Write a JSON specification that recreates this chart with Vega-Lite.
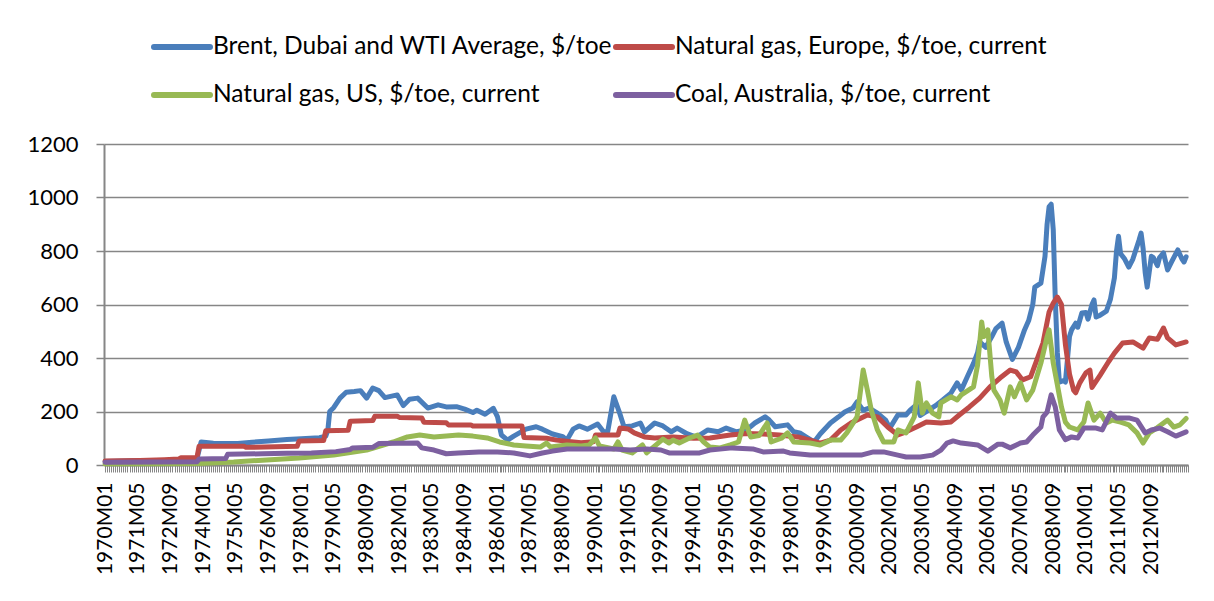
{
  "$schema": "https://vega.github.io/schema/vega-lite/v6.json",
  "autosize": "none",
  "width": 1084,
  "height": 321,
  "padding": {"left": 104, "top": 144, "right": 26, "bottom": 136},
  "background": "white",
  "config": {
    "view": {"stroke": null},
    "font": "Lato"
  },
  "data": {
    "format": {"parse": {"d": "utc:'%Y-%m'"}},
    "values": [
      {"d":"1970-01","k":"brent","v":13},{"d":"1971-02","k":"brent","v":16},{"d":"1972-12","k":"brent","v":18},{"d":"1973-10","k":"brent","v":24},{"d":"1973-12","k":"brent","v":86},{"d":"1974-06","k":"brent","v":81},{"d":"1975-06","k":"brent","v":80},{"d":"1976-01","k":"brent","v":85},{"d":"1976-09","k":"brent","v":90},{"d":"1977-06","k":"brent","v":95},{"d":"1978-01","k":"brent","v":98},{"d":"1978-10","k":"brent","v":102},{"d":"1979-01","k":"brent","v":108},{"d":"1979-02","k":"brent","v":130},{"d":"1979-03","k":"brent","v":200},{"d":"1979-05","k":"brent","v":215},{"d":"1979-08","k":"brent","v":250},{"d":"1979-11","k":"brent","v":272},{"d":"1980-03","k":"brent","v":275},{"d":"1980-06","k":"brent","v":278},{"d":"1980-09","k":"brent","v":250},{"d":"1980-12","k":"brent","v":288},{"d":"1981-03","k":"brent","v":278},{"d":"1981-06","k":"brent","v":252},{"d":"1981-12","k":"brent","v":262},{"d":"1982-03","k":"brent","v":222},{"d":"1982-06","k":"brent","v":246},{"d":"1982-10","k":"brent","v":250},{"d":"1983-03","k":"brent","v":213},{"d":"1983-08","k":"brent","v":225},{"d":"1983-12","k":"brent","v":217},{"d":"1984-05","k":"brent","v":218},{"d":"1984-09","k":"brent","v":209},{"d":"1985-01","k":"brent","v":196},{"d":"1985-03","k":"brent","v":205},{"d":"1985-07","k":"brent","v":190},{"d":"1985-11","k":"brent","v":212},{"d":"1986-01","k":"brent","v":181},{"d":"1986-03","k":"brent","v":112},{"d":"1986-06","k":"brent","v":93},{"d":"1986-09","k":"brent","v":108},{"d":"1987-03","k":"brent","v":134},{"d":"1987-08","k":"brent","v":143},{"d":"1987-11","k":"brent","v":134},{"d":"1988-04","k":"brent","v":116},{"d":"1988-09","k":"brent","v":106},{"d":"1988-11","k":"brent","v":93},{"d":"1989-02","k":"brent","v":134},{"d":"1989-05","k":"brent","v":146},{"d":"1989-09","k":"brent","v":134},{"d":"1990-02","k":"brent","v":153},{"d":"1990-05","k":"brent","v":124},{"d":"1990-07","k":"brent","v":124},{"d":"1990-10","k":"brent","v":255},{"d":"1991-01","k":"brent","v":190},{"d":"1991-03","k":"brent","v":143},{"d":"1991-07","k":"brent","v":146},{"d":"1991-11","k":"brent","v":157},{"d":"1992-01","k":"brent","v":124},{"d":"1992-06","k":"brent","v":157},{"d":"1992-10","k":"brent","v":146},{"d":"1993-02","k":"brent","v":124},{"d":"1993-05","k":"brent","v":138},{"d":"1993-10","k":"brent","v":116},{"d":"1994-02","k":"brent","v":105},{"d":"1994-04","k":"brent","v":112},{"d":"1994-08","k":"brent","v":131},{"d":"1995-01","k":"brent","v":124},{"d":"1995-05","k":"brent","v":138},{"d":"1995-10","k":"brent","v":124},{"d":"1996-03","k":"brent","v":131},{"d":"1996-07","k":"brent","v":157},{"d":"1996-12","k":"brent","v":180},{"d":"1997-02","k":"brent","v":168},{"d":"1997-05","k":"brent","v":143},{"d":"1997-11","k":"brent","v":150},{"d":"1998-02","k":"brent","v":124},{"d":"1998-05","k":"brent","v":120},{"d":"1998-08","k":"brent","v":105},{"d":"1998-12","k":"brent","v":86},{"d":"1999-03","k":"brent","v":116},{"d":"1999-08","k":"brent","v":157},{"d":"1999-12","k":"brent","v":180},{"d":"2000-03","k":"brent","v":198},{"d":"2000-07","k":"brent","v":213},{"d":"2000-09","k":"brent","v":236},{"d":"2000-12","k":"brent","v":205},{"d":"2001-03","k":"brent","v":213},{"d":"2001-07","k":"brent","v":194},{"d":"2001-11","k":"brent","v":168},{"d":"2002-01","k":"brent","v":138},{"d":"2002-05","k":"brent","v":187},{"d":"2002-09","k":"brent","v":187},{"d":"2002-11","k":"brent","v":205},{"d":"2003-02","k":"brent","v":225},{"d":"2003-04","k":"brent","v":185},{"d":"2003-08","k":"brent","v":205},{"d":"2003-12","k":"brent","v":225},{"d":"2004-03","k":"brent","v":243},{"d":"2004-07","k":"brent","v":269},{"d":"2004-10","k":"brent","v":307},{"d":"2004-12","k":"brent","v":280},{"d":"2005-03","k":"brent","v":330},{"d":"2005-06","k":"brent","v":380},{"d":"2005-08","k":"brent","v":420},{"d":"2005-09","k":"brent","v":460},{"d":"2005-12","k":"brent","v":440},{"d":"2006-03","k":"brent","v":480},{"d":"2006-05","k":"brent","v":510},{"d":"2006-08","k":"brent","v":530},{"d":"2006-10","k":"brent","v":460},{"d":"2007-01","k":"brent","v":395},{"d":"2007-04","k":"brent","v":440},{"d":"2007-07","k":"brent","v":505},{"d":"2007-09","k":"brent","v":540},{"d":"2007-11","k":"brent","v":600},{"d":"2007-12","k":"brent","v":665},{"d":"2008-03","k":"brent","v":680},{"d":"2008-05","k":"brent","v":780},{"d":"2008-06","k":"brent","v":900},{"d":"2008-07","k":"brent","v":965},{"d":"2008-08","k":"brent","v":975},{"d":"2008-09","k":"brent","v":880},{"d":"2008-10","k":"brent","v":620},{"d":"2008-11","k":"brent","v":420},{"d":"2008-12","k":"brent","v":310},{"d":"2009-02","k":"brent","v":315},{"d":"2009-03","k":"brent","v":310},{"d":"2009-05","k":"brent","v":480},{"d":"2009-06","k":"brent","v":505},{"d":"2009-08","k":"brent","v":530},{"d":"2009-09","k":"brent","v":515},{"d":"2009-11","k":"brent","v":568},{"d":"2010-01","k":"brent","v":570},{"d":"2010-02","k":"brent","v":545},{"d":"2010-04","k":"brent","v":600},{"d":"2010-05","k":"brent","v":617},{"d":"2010-06","k":"brent","v":553},{"d":"2010-08","k":"brent","v":560},{"d":"2010-11","k":"brent","v":575},{"d":"2011-01","k":"brent","v":620},{"d":"2011-03","k":"brent","v":700},{"d":"2011-04","k":"brent","v":800},{"d":"2011-05","k":"brent","v":855},{"d":"2011-06","k":"brent","v":790},{"d":"2011-08","k":"brent","v":770},{"d":"2011-10","k":"brent","v":740},{"d":"2011-12","k":"brent","v":770},{"d":"2012-03","k":"brent","v":840},{"d":"2012-04","k":"brent","v":867},{"d":"2012-05","k":"brent","v":810},{"d":"2012-06","k":"brent","v":720},{"d":"2012-07","k":"brent","v":665},{"d":"2012-09","k":"brent","v":780},{"d":"2012-10","k":"brent","v":775},{"d":"2012-12","k":"brent","v":745},{"d":"2013-01","k":"brent","v":775},{"d":"2013-03","k":"brent","v":793},{"d":"2013-05","k":"brent","v":729},{"d":"2013-07","k":"brent","v":760},{"d":"2013-09","k":"brent","v":790},{"d":"2013-10","k":"brent","v":804},{"d":"2013-12","k":"brent","v":770},{"d":"2014-01","k":"brent","v":759},{"d":"2014-02","k":"brent","v":778},

      {"d":"1970-01","k":"eu","v":15},{"d":"1971-06","k":"eu","v":17},{"d":"1972-06","k":"eu","v":20},{"d":"1973-01","k":"eu","v":22},{"d":"1973-02","k":"eu","v":27},{"d":"1973-10","k":"eu","v":28},{"d":"1973-11","k":"eu","v":70},{"d":"1975-09","k":"eu","v":70},{"d":"1975-10","k":"eu","v":66},{"d":"1977-11","k":"eu","v":70},{"d":"1977-12","k":"eu","v":90},{"d":"1978-12","k":"eu","v":92},{"d":"1979-01","k":"eu","v":128},{"d":"1979-12","k":"eu","v":130},{"d":"1980-01","k":"eu","v":164},{"d":"1980-12","k":"eu","v":166},{"d":"1981-01","k":"eu","v":182},{"d":"1981-12","k":"eu","v":182},{"d":"1982-01","k":"eu","v":178},{"d":"1982-12","k":"eu","v":176},{"d":"1983-01","k":"eu","v":160},{"d":"1983-12","k":"eu","v":158},{"d":"1984-01","k":"eu","v":150},{"d":"1984-12","k":"eu","v":150},{"d":"1985-01","k":"eu","v":146},{"d":"1987-01","k":"eu","v":146},{"d":"1987-02","k":"eu","v":103},{"d":"1988-01","k":"eu","v":100},{"d":"1988-06","k":"eu","v":93},{"d":"1989-01","k":"eu","v":87},{"d":"1989-06","k":"eu","v":83},{"d":"1989-12","k":"eu","v":87},{"d":"1990-01","k":"eu","v":112},{"d":"1990-12","k":"eu","v":112},{"d":"1991-01","k":"eu","v":138},{"d":"1991-05","k":"eu","v":135},{"d":"1991-08","k":"eu","v":120},{"d":"1992-01","k":"eu","v":105},{"d":"1992-06","k":"eu","v":101},{"d":"1993-03","k":"eu","v":105},{"d":"1994-01","k":"eu","v":100},{"d":"1994-09","k":"eu","v":101},{"d":"1995-07","k":"eu","v":112},{"d":"1996-03","k":"eu","v":118},{"d":"1996-11","k":"eu","v":116},{"d":"1997-07","k":"eu","v":112},{"d":"1998-04","k":"eu","v":105},{"d":"1998-10","k":"eu","v":93},{"d":"1999-03","k":"eu","v":82},{"d":"1999-08","k":"eu","v":93},{"d":"2000-01","k":"eu","v":131},{"d":"2000-06","k":"eu","v":157},{"d":"2000-11","k":"eu","v":176},{"d":"2001-02","k":"eu","v":187},{"d":"2001-07","k":"eu","v":180},{"d":"2001-12","k":"eu","v":142},{"d":"2002-05","k":"eu","v":112},{"d":"2002-09","k":"eu","v":124},{"d":"2003-02","k":"eu","v":142},{"d":"2003-07","k":"eu","v":161},{"d":"2004-02","k":"eu","v":157},{"d":"2004-07","k":"eu","v":161},{"d":"2004-11","k":"eu","v":187},{"d":"2005-04","k":"eu","v":217},{"d":"2005-09","k":"eu","v":250},{"d":"2006-02","k":"eu","v":292},{"d":"2006-07","k":"eu","v":325},{"d":"2006-12","k":"eu","v":355},{"d":"2007-03","k":"eu","v":348},{"d":"2007-06","k":"eu","v":318},{"d":"2007-10","k":"eu","v":330},{"d":"2008-01","k":"eu","v":393},{"d":"2008-04","k":"eu","v":456},{"d":"2008-07","k":"eu","v":572},{"d":"2008-09","k":"eu","v":605},{"d":"2008-11","k":"eu","v":628},{"d":"2009-01","k":"eu","v":600},{"d":"2009-03","k":"eu","v":450},{"d":"2009-05","k":"eu","v":340},{"d":"2009-07","k":"eu","v":280},{"d":"2009-08","k":"eu","v":270},{"d":"2009-10","k":"eu","v":307},{"d":"2010-01","k":"eu","v":345},{"d":"2010-03","k":"eu","v":355},{"d":"2010-04","k":"eu","v":290},{"d":"2010-08","k":"eu","v":336},{"d":"2010-12","k":"eu","v":385},{"d":"2011-03","k":"eu","v":418},{"d":"2011-07","k":"eu","v":456},{"d":"2011-12","k":"eu","v":460},{"d":"2012-05","k":"eu","v":437},{"d":"2012-08","k":"eu","v":475},{"d":"2012-12","k":"eu","v":470},{"d":"2013-03","k":"eu","v":512},{"d":"2013-05","k":"eu","v":475},{"d":"2013-09","k":"eu","v":449},{"d":"2014-02","k":"eu","v":460},

      {"d":"1970-01","k":"us","v":5},{"d":"1972-01","k":"us","v":5},{"d":"1973-11","k":"us","v":6},{"d":"1975-04","k":"us","v":11},{"d":"1976-08","k":"us","v":19},{"d":"1977-12","k":"us","v":26},{"d":"1979-05","k":"us","v":37},{"d":"1980-09","k":"us","v":56},{"d":"1981-10","k":"us","v":86},{"d":"1982-05","k":"us","v":105},{"d":"1982-11","k":"us","v":112},{"d":"1983-06","k":"us","v":105},{"d":"1984-06","k":"us","v":112},{"d":"1985-01","k":"us","v":108},{"d":"1985-08","k":"us","v":101},{"d":"1986-02","k":"us","v":86},{"d":"1986-09","k":"us","v":75},{"d":"1987-03","k":"us","v":71},{"d":"1987-10","k":"us","v":67},{"d":"1988-01","k":"us","v":82},{"d":"1988-03","k":"us","v":67},{"d":"1988-11","k":"us","v":75},{"d":"1989-06","k":"us","v":71},{"d":"1989-10","k":"us","v":75},{"d":"1990-01","k":"us","v":101},{"d":"1990-03","k":"us","v":71},{"d":"1990-10","k":"us","v":60},{"d":"1990-12","k":"us","v":86},{"d":"1991-02","k":"us","v":56},{"d":"1991-07","k":"us","v":45},{"d":"1991-12","k":"us","v":75},{"d":"1992-02","k":"us","v":45},{"d":"1992-10","k":"us","v":97},{"d":"1993-01","k":"us","v":82},{"d":"1993-03","k":"us","v":93},{"d":"1993-06","k":"us","v":82},{"d":"1993-11","k":"us","v":101},{"d":"1994-03","k":"us","v":112},{"d":"1994-06","k":"us","v":86},{"d":"1994-09","k":"us","v":67},{"d":"1995-02","k":"us","v":64},{"d":"1995-07","k":"us","v":75},{"d":"1995-11","k":"us","v":86},{"d":"1996-02","k":"us","v":168},{"d":"1996-05","k":"us","v":105},{"d":"1996-09","k":"us","v":110},{"d":"1997-01","k":"us","v":157},{"d":"1997-03","k":"us","v":86},{"d":"1997-08","k":"us","v":100},{"d":"1997-11","k":"us","v":120},{"d":"1998-02","k":"us","v":86},{"d":"1998-10","k":"us","v":82},{"d":"1999-03","k":"us","v":75},{"d":"1999-08","k":"us","v":93},{"d":"2000-01","k":"us","v":93},{"d":"2000-04","k":"us","v":120},{"d":"2000-09","k":"us","v":180},{"d":"2000-12","k":"us","v":355},{"d":"2001-02","k":"us","v":280},{"d":"2001-04","k":"us","v":205},{"d":"2001-07","k":"us","v":131},{"d":"2001-10","k":"us","v":86},{"d":"2002-03","k":"us","v":86},{"d":"2002-05","k":"us","v":131},{"d":"2002-09","k":"us","v":120},{"d":"2003-01","k":"us","v":180},{"d":"2003-03","k":"us","v":307},{"d":"2003-05","k":"us","v":194},{"d":"2003-07","k":"us","v":232},{"d":"2003-10","k":"us","v":194},{"d":"2004-01","k":"us","v":180},{"d":"2004-02","k":"us","v":232},{"d":"2004-07","k":"us","v":255},{"d":"2004-10","k":"us","v":243},{"d":"2004-12","k":"us","v":262},{"d":"2005-06","k":"us","v":292},{"d":"2005-08","k":"us","v":374},{"d":"2005-10","k":"us","v":535},{"d":"2005-11","k":"us","v":480},{"d":"2006-01","k":"us","v":505},{"d":"2006-03","k":"us","v":330},{"d":"2006-04","k":"us","v":280},{"d":"2006-07","k":"us","v":243},{"d":"2006-09","k":"us","v":194},{"d":"2006-12","k":"us","v":292},{"d":"2007-02","k":"us","v":255},{"d":"2007-05","k":"us","v":307},{"d":"2007-08","k":"us","v":243},{"d":"2007-11","k":"us","v":280},{"d":"2008-03","k":"us","v":381},{"d":"2008-06","k":"us","v":479},{"d":"2008-07","k":"us","v":505},{"d":"2008-09","k":"us","v":381},{"d":"2008-11","k":"us","v":300},{"d":"2009-01","k":"us","v":217},{"d":"2009-03","k":"us","v":160},{"d":"2009-05","k":"us","v":142},{"d":"2009-09","k":"us","v":131},{"d":"2009-12","k":"us","v":161},{"d":"2010-02","k":"us","v":232},{"d":"2010-05","k":"us","v":168},{"d":"2010-08","k":"us","v":194},{"d":"2010-11","k":"us","v":157},{"d":"2011-02","k":"us","v":168},{"d":"2011-06","k":"us","v":160},{"d":"2011-10","k":"us","v":150},{"d":"2012-02","k":"us","v":120},{"d":"2012-05","k":"us","v":82},{"d":"2012-08","k":"us","v":120},{"d":"2012-12","k":"us","v":140},{"d":"2013-05","k":"us","v":168},{"d":"2013-08","k":"us","v":142},{"d":"2013-11","k":"us","v":150},{"d":"2014-02","k":"us","v":174},

      {"d":"1970-01","k":"coal","v":10},{"d":"1973-10","k":"coal","v":12},{"d":"1973-11","k":"coal","v":22},{"d":"1974-12","k":"coal","v":24},{"d":"1975-01","k":"coal","v":40},{"d":"1976-06","k":"coal","v":42},{"d":"1977-06","k":"coal","v":44},{"d":"1978-06","k":"coal","v":45},{"d":"1979-06","k":"coal","v":50},{"d":"1980-01","k":"coal","v":58},{"d":"1980-02","k":"coal","v":64},{"d":"1980-12","k":"coal","v":66},{"d":"1981-03","k":"coal","v":80},{"d":"1982-10","k":"coal","v":82},{"d":"1982-12","k":"coal","v":64},{"d":"1983-06","k":"coal","v":56},{"d":"1983-12","k":"coal","v":42},{"d":"1984-06","k":"coal","v":45},{"d":"1985-04","k":"coal","v":49},{"d":"1986-01","k":"coal","v":49},{"d":"1986-09","k":"coal","v":45},{"d":"1987-05","k":"coal","v":34},{"d":"1987-11","k":"coal","v":45},{"d":"1988-04","k":"coal","v":52},{"d":"1988-11","k":"coal","v":60},{"d":"1990-10","k":"coal","v":60},{"d":"1991-06","k":"coal","v":56},{"d":"1992-02","k":"coal","v":60},{"d":"1992-09","k":"coal","v":56},{"d":"1993-01","k":"coal","v":45},{"d":"1994-04","k":"coal","v":45},{"d":"1994-09","k":"coal","v":56},{"d":"1995-08","k":"coal","v":64},{"d":"1996-06","k":"coal","v":60},{"d":"1996-11","k":"coal","v":49},{"d":"1997-09","k":"coal","v":52},{"d":"1997-12","k":"coal","v":45},{"d":"1998-10","k":"coal","v":37},{"d":"2000-11","k":"coal","v":37},{"d":"2001-05","k":"coal","v":49},{"d":"2001-10","k":"coal","v":49},{"d":"2002-05","k":"coal","v":37},{"d":"2002-09","k":"coal","v":30},{"d":"2003-04","k":"coal","v":30},{"d":"2003-10","k":"coal","v":37},{"d":"2004-02","k":"coal","v":56},{"d":"2004-05","k":"coal","v":82},{"d":"2004-08","k":"coal","v":90},{"d":"2004-12","k":"coal","v":82},{"d":"2005-08","k":"coal","v":75},{"d":"2006-01","k":"coal","v":52},{"d":"2006-06","k":"coal","v":78},{"d":"2006-08","k":"coal","v":78},{"d":"2006-12","k":"coal","v":64},{"d":"2007-05","k":"coal","v":82},{"d":"2007-08","k":"coal","v":86},{"d":"2007-11","k":"coal","v":112},{"d":"2008-03","k":"coal","v":142},{"d":"2008-04","k":"coal","v":180},{"d":"2008-06","k":"coal","v":198},{"d":"2008-08","k":"coal","v":262},{"d":"2008-10","k":"coal","v":217},{"d":"2008-12","k":"coal","v":131},{"d":"2009-03","k":"coal","v":95},{"d":"2009-06","k":"coal","v":105},{"d":"2009-09","k":"coal","v":101},{"d":"2009-12","k":"coal","v":138},{"d":"2010-06","k":"coal","v":138},{"d":"2010-09","k":"coal","v":131},{"d":"2011-01","k":"coal","v":194},{"d":"2011-04","k":"coal","v":176},{"d":"2011-10","k":"coal","v":176},{"d":"2012-02","k":"coal","v":168},{"d":"2012-06","k":"coal","v":120},{"d":"2012-09","k":"coal","v":131},{"d":"2013-01","k":"coal","v":138},{"d":"2013-05","k":"coal","v":124},{"d":"2013-09","k":"coal","v":108},{"d":"2014-02","k":"coal","v":124}
    ]
  },
  "mark": {"type": "line", "strokeWidth": 5, "strokeJoin": "round", "strokeCap": "round"},
  "encoding": {
    "x": {
      "field": "d",
      "type": "temporal",
      "scale": {
        "type": "utc",
        "domain": [{"year": 1969, "month": 12, "date": 16, "utc": true}, {"year": 2014, "month": 3, "date": 1, "utc": true}]
      },
      "axis": {
        "title": null,
        "grid": false,
        "tickCount": {"interval": "month", "step": 1},
        "labelExpr": "(utcyear(datum.value) < 2014 && ((utcyear(datum.value) - 1970) * 12 + utcmonth(datum.value)) % 16 === 0) ? utcFormat(datum.value, '%YM%m') : ''",
        "labelOverlap": false,
        "labelAngle": -90,
        "labelFontSize": 21,
        "labelColor": "#000000",
        "labelPadding": 10,
        "labelFlush": false,
        "labelBound": false,
        "tickSize": 7,
        "tickColor": "#868686",
        "tickWidth": 1,
        "domainColor": "#868686",
        "domainWidth": 2
      }
    },
    "y": {
      "field": "v",
      "type": "quantitative",
      "scale": {"domain": [0, 1200], "nice": false},
      "axis": {
        "title": null,
        "values": [0, 200, 400, 600, 800, 1000, 1200],
        "format": "d",
        "grid": true,
        "gridColor": "#868686",
        "gridWidth": 1.5,
        "domainColor": "#868686",
        "domainWidth": 2,
        "tickColor": "#868686",
        "tickWidth": 1.5,
        "tickSize": 8,
        "labelFontSize": 22,
        "labelColor": "#000000",
        "labelPadding": 18
      }
    },
    "color": {
      "field": "k",
      "type": "nominal",
      "scale": {
        "domain": ["brent", "us", "eu", "coal"],
        "range": ["#4A7EBB", "#98B954", "#BE4B48", "#7D60A0"]
      },
      "legend": {
        "title": null,
        "orient": "none",
        "legendX": 47,
        "legendY": -128,
        "columns": 2,
        "columnPadding": -9,
        "rowPadding": 5,
        "symbolType": "stroke",
        "symbolStrokeWidth": 6,
        "symbolSize": 3136,
        "labelOffset": 0,
        "labelFontSize": 24.5,
        "labelColor": "#000000",
        "labelLimit": 600,
        "labelExpr": "datum.value === 'brent' ? 'Brent, Dubai and WTI Average, $/toe' : datum.value === 'eu' ? 'Natural gas, Europe, $/toe, current' : datum.value === 'us' ? 'Natural gas, US, $/toe, current' : 'Coal, Australia, $/toe, current'",
        "encode": {"symbols": {"update": {"strokeCap": {"value": "round"}}}}
      }
    }
  }
}
